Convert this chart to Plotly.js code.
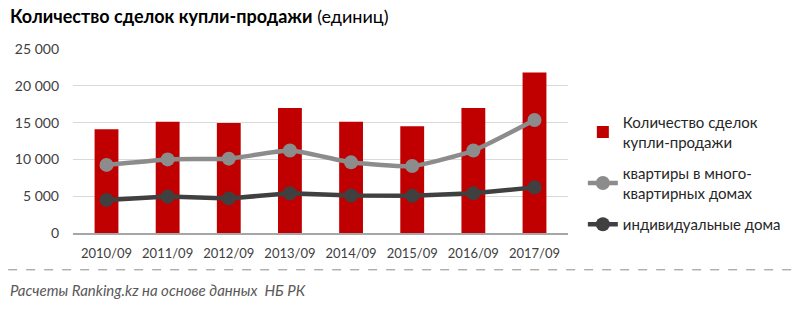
<!DOCTYPE html>
<html><head><meta charset="utf-8">
<script src="https://cdn.plot.ly/plotly-3.0.1.min.js"></script>
<style>body{margin:0;background:#fff}#c{width:800px;height:310px}</style>
</head><body><div id="c"></div>
<script>
const categories = ["2010/09","2011/09","2012/09","2013/09","2014/09","2015/09","2016/09","2017/09"];
const totalDeals = [14100, 15100, 14950, 17000, 15100, 14500, 17000, 21800];
const apartments = [9250, 10000, 10100, 11200, 9600, 9100, 11200, 15350];
const houses = [4500, 4950, 4700, 5400, 5100, 5050, 5400, 6200];
const seriesNames = ["Количество сделок<br>купли-продажи", "квартиры в много-<br>квартирных домах", "индивидуальные дома"];
const yTicks = [0, 5000, 10000, 15000, 20000, 25000];

const font = "Lato, 'Open Sans', sans-serif";
const traces = [
  {type:'bar', x:categories, y:totalDeals, name:seriesNames[0], legendgroup:'a', marker:{color:'#C00000'}},
  {type:'scatter', mode:'lines+markers', x:categories, y:apartments, name:seriesNames[1], legendgroup:'b',
   line:{color:'#8C8C8C', width:4.5, shape:'spline', smoothing:0.5}, marker:{color:'#8C8C8C', size:14}},
  {type:'scatter', mode:'lines+markers', x:categories, y:houses, name:seriesNames[2], legendgroup:'c',
   line:{color:'#404040', width:4.5}, marker:{color:'#404040', size:14}}
];
const layout = {
  width:800, height:310,
  margin:{l:73, r:232, t:49, b:77},
  paper_bgcolor:'#fff', plot_bgcolor:'#fff',
  separators:', ',
  font:{family:font, color:'#404040', size:13},
  bargap:0.61,
  showlegend:true,
  legend:{x:1.03, xanchor:'left', y:0.69, yanchor:'top', font:{family:font, size:15, color:'#262626'},
          tracegroupgap:9, itemwidth:30, bgcolor:'rgba(0,0,0,0)'},
  xaxis:{type:'category', showgrid:false, showline:true, linecolor:'#A6A6A6', linewidth:1.5,
         ticks:'', ticklabelstandoff:8, tickfont:{size:13, color:'#404040'}, fixedrange:true},
  yaxis:{range:[0,25000], tickvals:yTicks, tickformat:',d', showgrid:true, gridcolor:'#D9D9D9',
         zeroline:false, showline:false, ticks:'', ticklen:0, ticklabelstandoff:13,
         tickfont:{size:14, color:'#404040'}},
  annotations:[
    {xref:'paper', yref:'paper', x:-0.131, y:1.18, xanchor:'left', yanchor:'middle', showarrow:false,
     text:'<b>Количество сделок купли-продажи</b> (единиц)', font:{family:font, size:18, color:'#000'}},
    {xref:'paper', yref:'paper', x:-0.131, y:-0.31, xanchor:'left', yanchor:'middle', showarrow:false,
     text:'<i>Расчеты Ranking.kz на основе данных  НБ РК</i>', font:{family:font, size:15, color:'#595959'}}
  ],
  shapes:[
    {type:'line', xref:'paper', yref:'paper', x0:-0.131, x1:1.47, y0:-0.2, y1:-0.2,
     line:{color:'#8C8C8C', width:1, dash:'dash'}}
  ]
};
Plotly.newPlot('c', traces, layout, {displayModeBar:false, staticPlot:true});
</script></body></html>
